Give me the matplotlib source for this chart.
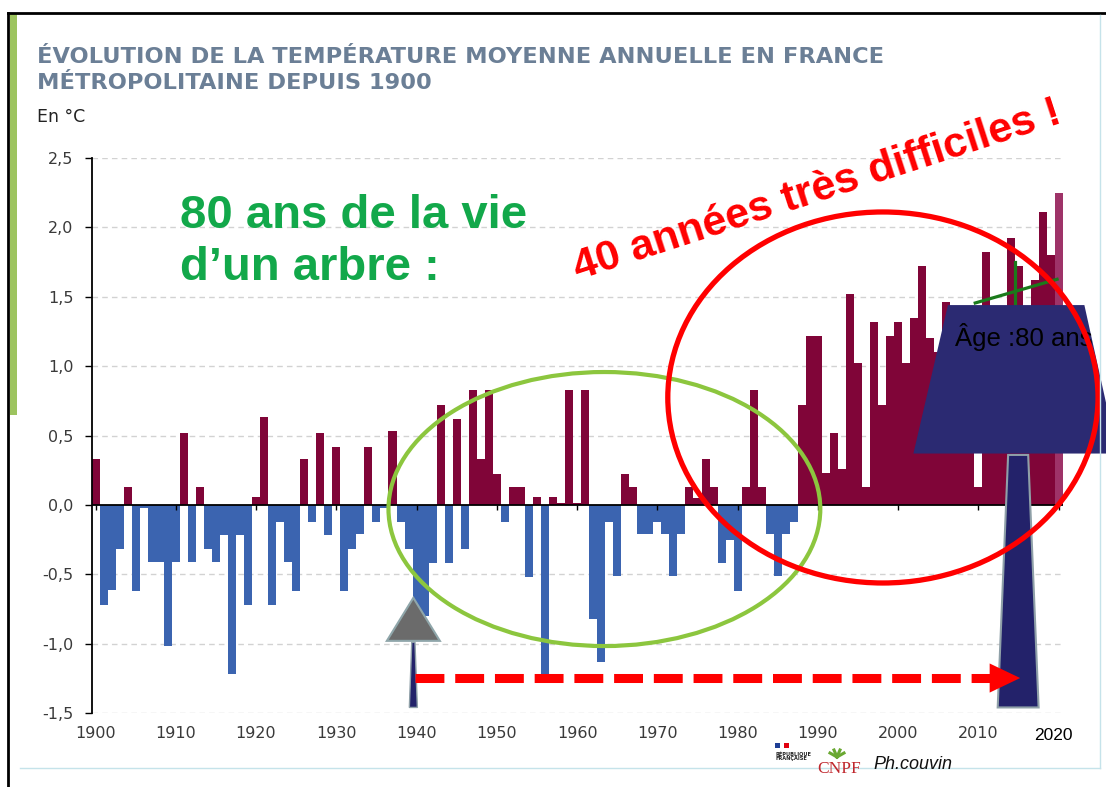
import numpy as np
import matplotlib
matplotlib.use("Agg")
import matplotlib.pyplot as plt
from matplotlib.patches import Ellipse, Polygon, Rectangle
from matplotlib.lines import Line2D

W, H = 1106, 787

# Anomalie de température moyenne annuelle (°C), France métropolitaine
years = list(range(1900, 2021))
anomalies = [
    0.33, -0.72, -0.61, -0.32, 0.13, -0.62, -0.02, -0.41, -0.41, -1.02,   # 1900-1909
    -0.41, 0.52, -0.41, 0.13, -0.32, -0.41, -0.22, -1.22, -0.22, -0.72,   # 1910-1919
    0.06, 0.63, -0.72, -0.12, -0.41, -0.62, 0.33, -0.12, 0.52, -0.22,     # 1920-1929
    0.42, -0.62, -0.32, -0.21, 0.42, -0.12, -0.02, 0.53, -0.12, -0.32,    # 1930-1939
    -0.85, -0.80, -0.42, 0.72, -0.42, 0.62, -0.32, 0.83, 0.33, 0.83,      # 1940-1949
    0.22, -0.12, 0.13, 0.13, -0.52, 0.06, -1.22, 0.06, 0.01, 0.83,        # 1950-1959
    0.01, 0.83, -0.82, -1.13, -0.12, -0.51, 0.22, 0.13, -0.21, -0.21,     # 1960-1969
    -0.12, -0.21, -0.51, -0.21, 0.13, 0.05, 0.33, 0.13, -0.42, -0.25,     # 1970-1979
    -0.62, 0.13, 0.83, 0.13, -0.21, -0.51, -0.21, -0.12, 0.72, 1.22,      # 1980-1989
    1.22, 0.23, 0.52, 0.26, 1.52, 1.02, 0.13, 1.32, 0.72, 1.22,           # 1990-1999
    1.32, 1.02, 1.35, 1.72, 1.20, 1.10, 1.46, 1.30, 1.00, 1.20,           # 2000-2009
    0.13, 1.82, 1.10, 0.80, 1.92, 1.72, 1.30, 1.62, 2.11, 1.80,           # 2010-2019
    2.25,                                                                 # 2020
]
decades = list(range(1900, 2021, 10))
y_ticks = [-1.5, -1.0, -0.5, 0.0, 0.5, 1.0, 1.5, 2.0, 2.5]

C_WARM = "#800538"
C_COLD = "#3b64b0"
C_LAST = "#9e3368"
C_RED = "#ff0000"
C_NAVY = "#2b2a72"


def fx(x):
    return x / W


def fy(y):
    return 1 - y / H


fig = plt.figure(figsize=(W / 100, H / 100), dpi=100)
fig.patch.set_facecolor("white")

ax = fig.add_axes([fx(91.5), fy(713), (1062.7 - 91.5) / W, (713 - 158) / H])
ax.set_xlim(1899.5, 2020.5)
ax.set_ylim(-1.5, 2.5)

for s in ("top", "right", "bottom"):
    ax.spines[s].set_visible(False)
ax.spines["left"].set_color("black")
ax.spines["left"].set_linewidth(1.3)

# grille pointillée
for v in y_ticks:
    if v != 0:
        ax.axhline(v, color="#d2d2d2", lw=1, ls=(0, (4, 3)), zorder=0)

colors = [C_WARM if a >= 0 else C_COLD for a in anomalies]
colors[-1] = C_LAST
ax.bar(years, anomalies, width=1.0, color=colors, linewidth=0, zorder=2)

ax.axhline(0, color="black", lw=1.3, zorder=3)
ax.vlines(decades, -0.035, 0, color="black", lw=1, zorder=3)

ax.set_yticks(y_ticks)
ax.set_yticklabels([f"{v:.1f}".replace(".", ",") for v in y_ticks],
                   fontsize=11.5, color="#3a3a3a")
ax.tick_params(axis="y", length=5, width=1, color="black", pad=8)

ax.set_xticks(decades[:-1])
ax.set_xticklabels([str(d) for d in decades[:-1]], fontsize=11.5, color="#3a3a3a")
ax.tick_params(axis="x", length=0, pad=9)
ax.text(2019.3, -1.61, "2020", family="Liberation Sans", fontsize=12.5,
        color="black", ha="center", va="top", clip_on=False)

# --- annotations -----------------------------------------------------------
ax.add_patch(Ellipse((1963.4, -0.03), 53.8, 1.975, fill=False, ec="#8cc63e",
                     lw=3, zorder=4, clip_on=False))

# petit arbre de 1940
ax.add_patch(Polygon([(1939.4, -0.99), (1939.8, -0.99), (1940.1, -1.46), (1939.1, -1.46)],
                     closed=True, fc="#23226a", ec="#8fa0a8", lw=1, zorder=5, clip_on=False))
ax.add_patch(Polygon([(1939.6, -0.67), (1942.9, -0.98), (1936.3, -0.98)], closed=True,
                     fc="#6b6b6b", ec="#8fa6aa", lw=1.5, zorder=5, clip_on=False))

# grand arbre 80 ans
ax.add_patch(Polygon([(2013.7, 0.36), (2016.2, 0.36), (2017.5, -1.46), (2012.4, -1.46)],
                     closed=True, fc="#23226a", ec="#8fa0a8", lw=1.5, zorder=5, clip_on=False))
ax.add_patch(Polygon([(2006.2, 1.44), (2023.2, 1.44), (2027.3, 0.37), (2001.9, 0.37)],
                     closed=True, fc=C_NAVY, ec="none", zorder=5, clip_on=False))
ax.plot([2009.6, 2019.8], [1.455, 1.626], color="#1b7a1b", lw=2.3, zorder=4, clip_on=False)
ax.plot([2014.6, 2014.6], [1.44, 1.753], color="#1b7a1b", lw=2.3, zorder=4, clip_on=False)
ax.text(2007.1, 1.21, "Âge :80 ans", family="Liberation Sans", fontsize=18.5,
        color="black", ha="left", va="center", zorder=6, clip_on=False)

# flèche rouge pointillée
ax.plot([1939.8, 2011.4], [-1.248, -1.248], color=C_RED, lw=6.5,
        ls=(0, (3.2, 1.2)), dash_capstyle="butt", zorder=6, clip_on=False)
ax.add_patch(Polygon([(2011.4, -1.143), (2015.2, -1.248), (2011.4, -1.353)], closed=True,
                     fc=C_RED, ec="none", zorder=6, clip_on=False))

ax.add_patch(Ellipse((1998.1, 0.774), 53.6, 2.674, fill=False, ec=C_RED,
                     lw=3.8, zorder=7, clip_on=False))

# --- textes ----------------------------------------------------------------
fig.text(fx(37), fy(63), "ÉVOLUTION DE LA TEMPÉRATURE MOYENNE ANNUELLE EN FRANCE",
         family="DejaVu Sans", weight="bold", fontsize=16.2, color="#6b7f96", va="baseline")
fig.text(fx(37), fy(89), "MÉTROPOLITAINE DEPUIS 1900",
         family="DejaVu Sans", weight="bold", fontsize=16.2, color="#6b7f96", va="baseline")
fig.text(fx(37), fy(122), "En °C", family="DejaVu Sans", fontsize=12.5,
         color="#222222", va="baseline")

fig.text(fx(180), fy(228), "80 ans de la vie", family="Liberation Sans",
         weight="bold", fontsize=34, color="#12a84a", va="baseline")
fig.text(fx(180), fy(280), "d’un arbre :", family="Liberation Sans",
         weight="bold", fontsize=34, color="#12a84a", va="baseline")
fig.text(fx(578), fy(280), "40 années très difficiles !", family="Liberation Sans",
         weight="bold", fontsize=31, color=C_RED, rotation=18,
         rotation_mode="anchor", ha="left", va="baseline")

# --- pied de page -----------------------------------------------------------
fig.add_artist(Rectangle((fx(775), fy(748)), 5 / W, 5 / H, transform=fig.transFigure,
                         fc="#1f3f95", ec="none"))
fig.add_artist(Rectangle((fx(784), fy(748)), 5 / W, 5 / H, transform=fig.transFigure,
                         fc="#e1000f", ec="none"))
fig.text(fx(775), fy(760), "RÉPUBLIQUE\nFRANÇAISE", family="DejaVu Sans",
         weight="bold", fontsize=3.6, color="#222222", va="baseline", linespacing=1.0)
fig.text(fx(817), fy(773), "CNPF", family="Liberation Serif", fontsize=12.5,
         color="#c0272d", va="baseline")
for dx, dy in [(-7, 4), (-3, 7), (3, 7), (7, 4)]:
    fig.add_artist(Line2D([fx(837), fx(837 + dx)], [fy(757), fy(757 - dy)],
                          transform=fig.transFigure, color="#6aa832", lw=2.2))
fig.text(fx(873), fy(769), "Ph.couvin", family="Liberation Sans", style="italic",
         fontsize=13, color="#111111", va="baseline")

# --- cadre de la diapositive ------------------------------------------------
fig.add_artist(Line2D([fx(8), fx(1106)], [fy(13), fy(13)], transform=fig.transFigure,
                      color="black", lw=2))
fig.add_artist(Line2D([fx(8), fx(8)], [fy(13), fy(787)], transform=fig.transFigure,
                      color="black", lw=2))
fig.add_artist(Rectangle((fx(10), fy(415)), 7 / W, (415 - 14) / H, transform=fig.transFigure,
                         fc="#9dc45f", ec="none"))
fig.add_artist(Line2D([fx(1100), fx(1100)], [fy(15), fy(768)], transform=fig.transFigure,
                      color="#c5e3ea", lw=1))
fig.add_artist(Line2D([fx(20), fx(1100)], [fy(768), fy(768)], transform=fig.transFigure,
                      color="#c5e3ea", lw=1))

fig.savefig("out.png", dpi=100)
